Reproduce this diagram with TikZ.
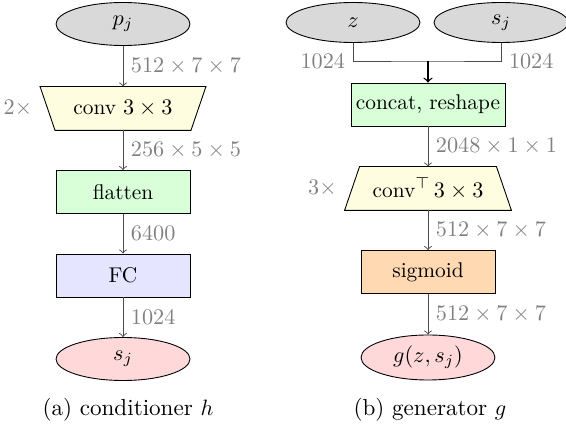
\documentclass[tikz,border=0pt]{standalone}
\usetikzlibrary{shapes.geometric,backgrounds,calc}
\definecolor{inputgray}{gray}{0.85}
\tikzset{
  ell/.style={ellipse, draw=black, fill=inputgray, minimum width=60.3pt, minimum height=19.35pt, inner sep=0pt},
  boxnode/.style={rectangle, draw=black, minimum width=60.3pt, minimum height=19.35pt, inner sep=0pt},
  trapnode/.style={rectangle, minimum height=19.35pt, inner sep=0pt},
  arr/.style={->, draw=black!70},
  feed/.style={draw=black!70},
  lab/.style={text=gray, inner sep=3.4pt},
  captext/.style={font=\fontsize{10.4}{13}\selectfont},
  boxtext/.style={font=\fontsize{9.6}{12}\selectfont},
}
\begin{document}
\begin{tikzpicture}[x=0.45pt,y=-0.45pt]
\useasboundingbox (0,0) rectangle (566,427);
% ---- (a) conditioner
\node[ell] (pj) at (123,24) {$p_j$};
\node[trapnode, boxtext, minimum width=74.25pt] (conv) at (123,108.5) {conv $3\times3$};
\node[boxnode, boxtext, fill=green!15] (flat) at (123,192) {flatten};
\node[boxnode, boxtext, fill=blue!10] (fc) at (123,275.5) {FC};
\node[ell, fill=red!15] (sj) at (123,359) {$s_j$};
\node[lab, left] (rep2) at (conv.west) {$2\times$};
\node[captext] (capa) at (128,410) {(a) conditioner $h$};
\begin{scope}[on background layer]
\filldraw[fill=yellow!12, draw=black] (conv.north west) -- (conv.north east) -- ($(conv.south east)+(-15,0)$) -- ($(conv.south west)+(15,0)$) -- cycle;
\end{scope}
\draw[arr] (pj) -- node[lab, right] {$512\times7\times7$} (conv);
\draw[arr] (conv) -- node[lab, right] {$256\times5\times5$} (flat);
\draw[arr] (flat) -- node[lab, right] {$6400$} (fc);
\draw[arr] (fc) -- node[lab, right] {$1024$} (sj);
% ---- (b) generator
\node[ell, minimum height=18pt] (z) at (353,22.5) {$z$};
\node[ell, minimum height=18pt] (sj2) at (501,22.5) {$s_j$};
\coordinate (m) at (428,61);
\node[boxnode, boxtext, fill=green!15, minimum width=69.3pt] (cat) at (428,104.5) {concat, reshape};
\node[trapnode, boxtext, minimum width=74.7pt] (convT) at (428,188.5) {conv$^\top\,3\times3$};
\node[boxnode, boxtext, fill=orange!30] (sig) at (428,272) {sigmoid};
\node[ell, fill=red!15, minimum height=20.25pt] (g) at (428,357.5) {$g(z,s_j)$};
\node[lab, left] (rep3) at (convT.west) {$3\times$};
\node[captext] (capb) at (430,410) {(b) generator $g$};
\begin{scope}[on background layer]
\filldraw[fill=yellow!12, draw=black] (convT.south west) -- (convT.south east) -- ($(convT.north east)+(-15,0)$) -- ($(convT.north west)+(15,0)$) -- cycle;
\end{scope}
\draw[feed] (z.south) |- (m) -| (sj2.south);
\node[lab, left] (l1) at (z.south |- m) {$1024$};
\node[lab, right] (l2) at (sj2.south |- m) {$1024$};
\draw[->, draw=black, semithick] (m) -- (cat);
\draw[arr] (cat) -- node[lab, right] {$2048\times1\times1$} (convT);
\draw[arr] (convT) -- node[lab, right] {$512\times7\times7$} (sig);
\draw[arr] (sig) -- node[lab, right] {$512\times7\times7$} (g);
\end{tikzpicture}
\end{document}
